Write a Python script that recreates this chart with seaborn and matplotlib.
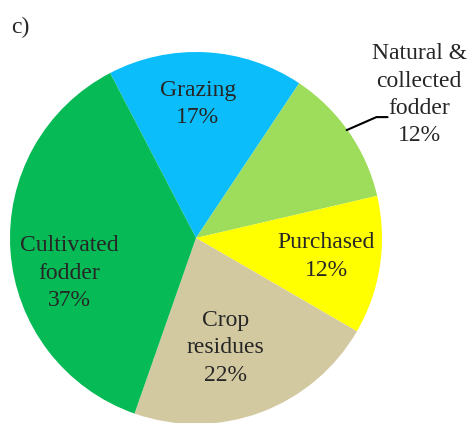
import seaborn as sns
import matplotlib.pyplot as plt

sources = ['Grazing', 'Natural &\ncollected\nfodder', 'Purchased', 'Crop\nresidues', 'Cultivated\nfodder']
shares = [17, 12, 12, 22, 37]
colors = ['#0BBDFB', '#9DDD5B', '#FFFF00', '#D3C9A1', '#06BA55']

# label positions relative to pie centre (radius = 1)
label_pos = [(0.01, 0.72), (1.20, 0.77), (0.70, -0.10), (0.16, -0.59), (-0.68, -0.19)]

sns.set_style('white')
plt.rcParams['font.family'] = ['Liberation Serif', 'DejaVu Serif']

fig = plt.figure(figsize=(4.72, 4.23), dpi=100)
ax = fig.add_axes([10 / 472, -1 / 423, 372 / 472, 372 / 423])

wedges, _ = ax.pie(shares, colors=colors, startangle=117.5, counterclock=False,
                   radius=1, wedgeprops={'linewidth': 0})
ax.set_xlim(-1, 1)
ax.set_ylim(-1, 1)
ax.set_aspect('equal')
ax.axis('off')

for name, val, (x, y) in zip(sources, shares, label_pos):
    ax.text(x, y, f'{name}\n{val}%', ha='center', va='center', fontsize=17,
            linespacing=1.4, clip_on=False)

# leader line for the outside label
ax.plot([0.81, 0.97, 1.03], [0.58, 0.65, 0.65], color='black', lw=1.5, clip_on=False)

fig.text(11 / 472, (423 - 33) / 423, 'c)', fontsize=17, va='baseline')

plt.savefig('out.png', dpi=100)
